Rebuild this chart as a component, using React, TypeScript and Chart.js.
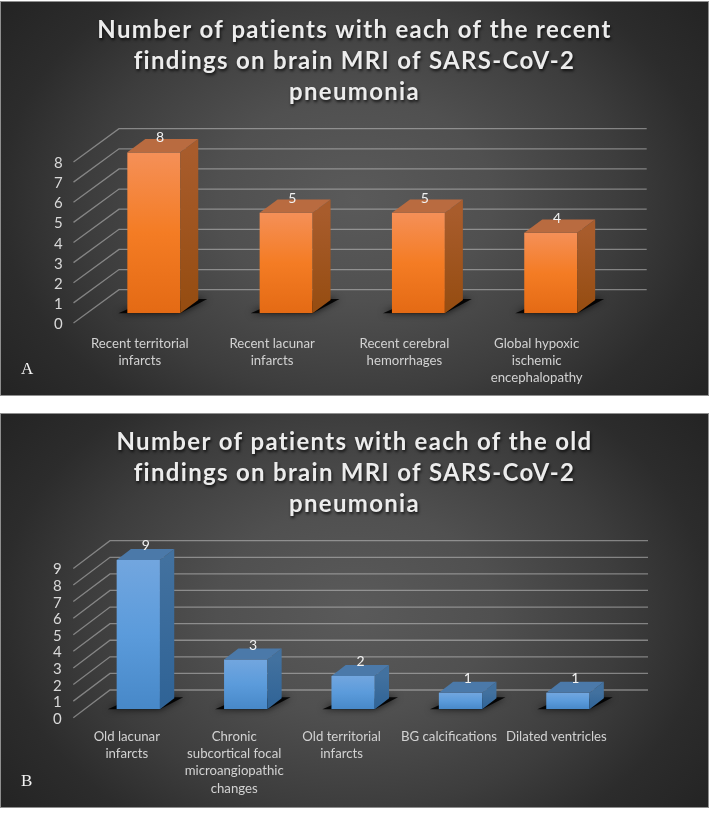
import React, { useEffect, useRef } from "react";
import { Chart, registerables } from "chart.js";

Chart.register(...registerables);

const titleA = ["Number of patients with each of the recent", "findings on brain MRI of SARS-CoV-2", "pneumonia"];
const categoriesA = [
  ["Recent territorial", "infarcts"],
  ["Recent lacunar", "infarcts"],
  ["Recent cerebral", "hemorrhages"],
  ["Global hypoxic", "ischemic", "encephalopathy"],
];
const valuesA = [8, 5, 5, 4];

const titleB = ["Number of patients with each of the old", "findings on brain MRI of SARS-CoV-2", "pneumonia"];
const categoriesB = [
  ["Old lacunar", "infarcts"],
  ["Chronic", "subcortical focal", "microangiopathic", "changes"],
  ["Old territorial", "infarcts"],
  ["BG calcifications"],
  ["Dilated ventricles"],
];
const valuesB = [9, 3, 2, 1, 1];

const W = 709;

type Look = {
  front: [string, string, string];
  side: [string, string];
  top: string;
};
const orange: Look = {
  front: ["#F59058", "#F47C24", "#E46A14"],
  side: ["#A85C2C", "#954C10"],
  top: "#B96B40",
};
const blue: Look = {
  front: ["#72A6DF", "#5B9BDB", "#4788C8"],
  side: ["#42719F", "#2F6396"],
  top: "#4B79A9",
};

type Geo = {
  H: number;
  left: number;
  right: number;
  top: number;
  bottom: number;
  titlePadTop: number;
  axisX0: number;
  axisX1: number;
  axisX2: number;
  frontDy: number;
  backDy: number;
  barDx: number;
  barDy: number;
  labelShift: number;
  barFrac: number;
  tickPad: number;
  xPad: number;
  valueDx: number;
  tickLineHeight: number;
};

const makePlugin = (g: Geo, look: Look) => ({
  id: "fake3d",
  beforeDraw(chart: any) {
    const tb = chart.titleBlock;
    if (tb && !tb.__wrapped) {
      tb.__wrapped = true;
      const orig = tb.draw.bind(tb);
      tb.draw = (...args: any[]) => {
        const ctx = chart.ctx;
        ctx.save();
        ctx.translate((W - g.right) / 2, 0);
        (ctx as any).letterSpacing = "1.3px";
        ctx.shadowColor = "rgba(0,0,0,0.75)";
        ctx.shadowBlur = 3;
        ctx.shadowOffsetX = 1;
        ctx.shadowOffsetY = 2;
        orig(...args);
        ctx.restore();
      };
    }
  },
  beforeDatasetsDraw(chart: any) {
    const ctx = chart.ctx;
    const y = chart.scales.y;
    ctx.save();
    ctx.strokeStyle = "rgba(205,205,205,0.5)";
    ctx.lineWidth = 1.3;
    for (const t of y.ticks) {
      const p = y.getPixelForValue(t.value);
      ctx.beginPath();
      ctx.moveTo(g.axisX0, p + g.frontDy);
      ctx.lineTo(g.axisX1, p - g.backDy);
      ctx.lineTo(g.axisX2, p - g.backDy);
      ctx.stroke();
    }
    // floor shadows
    const base = y.getPixelForValue(0);
    for (const b of chart.getDatasetMeta(0).data) {
      const l = b.x - b.width / 2;
      const r = b.x + b.width / 2;
      ctx.save();
      ctx.shadowColor = "rgba(0,0,0,0.85)";
      ctx.shadowBlur = 7;
      ctx.fillStyle = "rgba(0,0,0,0.9)";
      ctx.beginPath();
      ctx.moveTo(l - 9, base);
      ctx.lineTo(r, base);
      ctx.lineTo(r + g.barDx + 9, base - g.barDy - 1);
      ctx.lineTo(r + g.barDx - 6, base - g.barDy - 1);
      ctx.lineTo(l, base - 4);
      ctx.closePath();
      ctx.fill();
      ctx.restore();
    }
    ctx.restore();
  },
  afterDatasetsDraw(chart: any) {
    const ctx = chart.ctx;
    const y = chart.scales.y;
    const base = y.getPixelForValue(0);
    const meta = chart.getDatasetMeta(0);
    const data = chart.data.datasets[0].data;
    ctx.save();
    meta.data.forEach((b: any, i: number) => {
      const l = b.x - b.width / 2;
      const r = b.x + b.width / 2;
      const t = b.y;
      const grad = ctx.createLinearGradient(0, t, 0, base);
      grad.addColorStop(0, look.side[0]);
      grad.addColorStop(1, look.side[1]);
      ctx.fillStyle = grad;
      ctx.beginPath();
      ctx.moveTo(r, t);
      ctx.lineTo(r + g.barDx, t - g.barDy);
      ctx.lineTo(r + g.barDx, base - g.barDy);
      ctx.lineTo(r, base);
      ctx.closePath();
      ctx.fill();
      ctx.fillStyle = look.top;
      ctx.beginPath();
      ctx.moveTo(l, t);
      ctx.lineTo(l + g.barDx, t - g.barDy);
      ctx.lineTo(r + g.barDx, t - g.barDy);
      ctx.lineTo(r, t);
      ctx.closePath();
      ctx.fill();
      ctx.fillStyle = "#f2f2f2";
      ctx.font = "14px Lato";
      ctx.textAlign = "center";
      ctx.textBaseline = "middle";
      ctx.fillText(String(data[i]), b.x + g.valueDx, t - 14.5);
    });
    ctx.restore();
  },
});

function Panel({
  title,
  labels,
  values,
  look,
  geo,
  seriesName,
  letter,
  top,
}: {
  title: string[];
  labels: string[][];
  values: number[];
  look: Look;
  geo: Geo;
  seriesName: string;
  letter: string;
  top: number;
}) {
  const ref = useRef<HTMLCanvasElement>(null);
  useEffect(() => {
    const canvas = ref.current;
    if (!canvas) return;
    const g = geo;
    const chart = new Chart(canvas, {
      type: "bar",
      data: {
        labels,
        datasets: [
          {
            label: seriesName,
            data: values,
            barPercentage: g.barFrac,
            categoryPercentage: 1,
            backgroundColor: (c: any) => {
              const yScale = c.chart.scales?.y;
              if (!yScale || c.raw == null) return look.front[1];
              const y0 = yScale.getPixelForValue(c.raw);
              const y1 = yScale.getPixelForValue(0);
              if (!Number.isFinite(y0) || !Number.isFinite(y1)) return look.front[1];
              const gr = c.chart.ctx.createLinearGradient(0, y0, 0, y1);
              gr.addColorStop(0, look.front[0]);
              gr.addColorStop(0.5, look.front[1]);
              gr.addColorStop(1, look.front[2]);
              return gr;
            },
          },
        ],
      },
      options: {
        responsive: false,
        animation: false,
        events: [],
        layout: { padding: { left: 0, right: W - g.right, top: 0, bottom: 0 } },
        plugins: {
          legend: { display: false },
          tooltip: { enabled: false },
          title: {
            display: true,
            text: title,
            color: "#ececec",
            font: { family: "Lato", size: 24, weight: "bold", lineHeight: 31 / 24 },
            padding: { top: g.titlePadTop, bottom: g.top - g.titlePadTop - 93 },
          },
        },
        scales: {
          x: {
            grid: { display: false, drawTicks: false },
            border: { display: false },
            ticks: {
              color: "#d2d2d2",
              font: { family: "Lato", size: 13.2, lineHeight: g.tickLineHeight },
              padding: g.xPad,
              labelOffset: g.labelShift,
              maxRotation: 0,
              autoSkip: false,
            },
            afterFit: (s: any) => {
              s.height = g.H - g.bottom;
            },
          },
          y: {
            beginAtZero: true,
            max: Math.max(...values),
            grid: { display: false, drawTicks: false },
            border: { display: false },
            ticks: {
              stepSize: 1,
              autoSkip: false,
              color: "#d9d9d9",
              font: { family: "Lato", size: 15 },
              padding: g.tickPad,
              labelOffset: g.frontDy + 1.2,
            },
            afterFit: (s: any) => {
              s.width = g.left;
            },
          },
        },
      },
      plugins: [makePlugin(g, look)],
    } as any);
    return () => chart.destroy();
  }, []);
  return (
    <div
      style={{
        position: "absolute",
        left: 0,
        top,
        width: W,
        height: geo.H,
        boxSizing: "border-box",
        background:
          "radial-gradient(460px 340px at 50% 50%, #5a5a5a 0%, #505050 30%, #3d3d3d 58%, #2c2c2c 77%, #222222 100%)",
      }}
    >
      <canvas ref={ref} width={W} height={geo.H} style={{ display: "block", position: "absolute", left: 0, top: 0 }} />
      <div
        style={{
          position: "absolute",
          inset: 0,
          border: "1px solid #8f8f8f",
          boxSizing: "border-box",
          pointerEvents: "none",
        }}
      />
      <div
        style={{
          position: "absolute",
          left: 21,
          top: geo.H - 37,
          color: "#f2f2f2",
          fontFamily: "'Liberation Serif'",
          fontSize: 17,
          lineHeight: "20px",
        }}
      >
        {letter}
      </div>
    </div>
  );
}

const geoA: Geo = {
  H: 395,
  left: 87.65,
  right: 616.85,
  top: 151.3,
  bottom: 312.3,
  titlePadTop: 13.5,
  axisX0: 73.5,
  axisX1: 119,
  axisX2: 646.7,
  frontDy: 9.7,
  backDy: 23.6,
  barDx: 18,
  barDy: 13.3,
  labelShift: -14,
  barFrac: 0.4,
  tickPad: 25,
  xPad: 21.5,
  valueDx: 6.3,
  tickLineHeight: 17 / 13.2,
};
const geoB: Geo = {
  H: 395,
  left: 84.6,
  right: 621.6,
  top: 147,
  bottom: 296.3,
  titlePadTop: 13.7,
  axisX0: 73.3,
  axisX1: 110,
  axisX2: 648,
  frontDy: 8.4,
  backDy: 19.3,
  barDx: 14.3,
  barDy: 11,
  labelShift: -11.5,
  barFrac: 0.403,
  tickPad: 23,
  xPad: 18.5,
  valueDx: 7.4,
  tickLineHeight: 17.3 / 13.2,
};

export default function App() {
  return (
    <div style={{ position: "absolute", left: 0, top: 0, width: 714, height: 814, background: "#fff" }}>
      <Panel title={titleA} labels={categoriesA} values={valuesA} look={orange} geo={geoA} seriesName="Recent findings" letter="A" top={1} />
      <Panel title={titleB} labels={categoriesB} values={valuesB} look={blue} geo={geoB} seriesName="Old findings" letter="B" top={413} />
    </div>
  );
}
